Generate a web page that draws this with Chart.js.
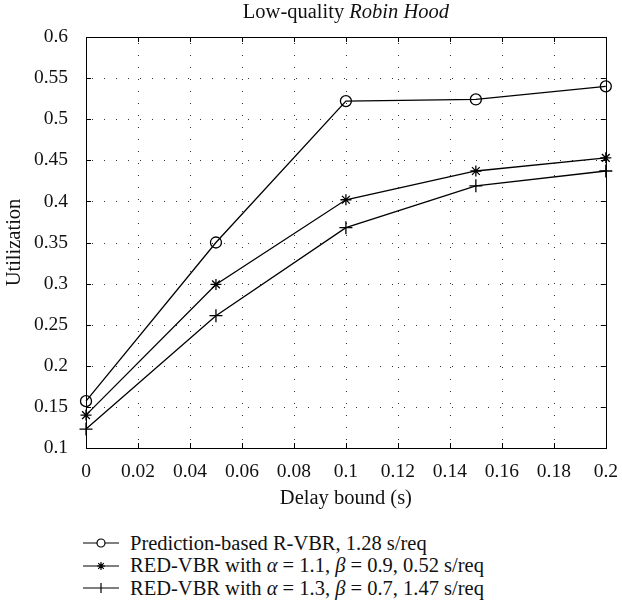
<!DOCTYPE html>
<html>
<head>
<meta charset="utf-8">
<script src="https://cdn.jsdelivr.net/npm/chart.js@4"></script>
<style>
  body { margin: 0; background: #fff; }
  #wrap { position: relative; width: 622px; height: 613px; font-family: "Liberation Serif", serif; }
  #legend { position: absolute; left: 83px; top: 532px; font-size: 20.5px; color: #111; }
  .row { display: flex; align-items: center; height: 22.5px; white-space: nowrap; }
  .row svg { width: 36px; height: 14px; margin-right: 11px; }
</style>
</head>
<body>
<div id="wrap">
  <canvas id="myLineChart" width="622" height="520"></canvas>
  <div id="legend"></div>
</div>
<script>
// data
const delayBound = [0, 0.05, 0.1, 0.15, 0.2];
const predictionRVBR = [0.157, 0.350, 0.522, 0.524, 0.540];
const redVBR1 = [0.140, 0.299, 0.402, 0.437, 0.453];
const redVBR2 = [0.123, 0.261, 0.368, 0.419, 0.437];
const xTicks = [0, 0.02, 0.04, 0.06, 0.08, 0.1, 0.12, 0.14, 0.16, 0.18, 0.2];
const yTicks = [0.1, 0.15, 0.2, 0.25, 0.3, 0.35, 0.4, 0.45, 0.5, 0.55, 0.6];
const seriesNames = [
  'Prediction-based R-VBR, 1.28 s/req',
  'RED-VBR with <i>α</i> = 1.1, <i>β</i> = 0.9, 0.52 s/req',
  'RED-VBR with <i>α</i> = 1.3, <i>β</i> = 0.7, 1.47 s/req'
];
const markers = ['circle', 'star', 'cross'];

const FONT = '"Liberation Serif", serif';

function toPoints(ys) {
  return delayBound.map((x, i) => ({ x: x, y: ys[i] }));
}

function makeSet(label, ys, style, r) {
  return {
    label: label,
    data: toPoints(ys),
    borderColor: '#000',
    borderWidth: 1.3,
    pointStyle: style,
    pointRadius: r,
    pointHoverRadius: r,
    pointBorderColor: '#000',
    pointBackgroundColor: 'rgba(0,0,0,0)',
    pointBorderWidth: 1.3,
    tension: 0,
    clip: false
  };
}

// dotted grid, box round the plot, inward ticks on all sides, mixed-style title
const frame = {
  id: 'frame',
  beforeDatasetsDraw(chart) {
    const ctx = chart.ctx;
    const a = chart.chartArea;
    const xs = chart.scales.x, ys = chart.scales.y;
    ctx.save();
    ctx.fillStyle = '#333';
    xTicks.forEach(v => {
      const px = Math.round(xs.getPixelForValue(v));
      if (px <= a.left + 1 || px >= a.right - 1) return;
      for (let y = a.top + 6; y < a.bottom - 2; y += 12) ctx.fillRect(px, Math.round(y), 1, 1);
    });
    yTicks.forEach(v => {
      const py = Math.round(ys.getPixelForValue(v));
      if (py <= a.top + 1 || py >= a.bottom - 1) return;
      for (let x = a.left + 6; x < a.right - 2; x += 12) ctx.fillRect(Math.round(x), py, 1, 1);
    });
    ctx.restore();
  },
  afterDraw(chart) {
    const ctx = chart.ctx;
    const a = chart.chartArea;
    const xs = chart.scales.x, ys = chart.scales.y;
    ctx.save();
    ctx.strokeStyle = '#000';
    ctx.lineWidth = 1;
    ctx.strokeRect(Math.round(a.left) + 0.5, Math.round(a.top) + 0.5,
      Math.round(a.right - a.left), Math.round(a.bottom - a.top));
    ctx.beginPath();
    xTicks.forEach(v => {
      const px = Math.round(xs.getPixelForValue(v)) + 0.5;
      ctx.moveTo(px, a.bottom); ctx.lineTo(px, a.bottom - 5);
      ctx.moveTo(px, a.top); ctx.lineTo(px, a.top + 5);
    });
    yTicks.forEach(v => {
      const py = Math.round(ys.getPixelForValue(v)) + 0.5;
      ctx.moveTo(a.left, py); ctx.lineTo(a.left + 5, py);
      ctx.moveTo(a.right, py); ctx.lineTo(a.right - 5, py);
    });
    ctx.stroke();

    const t1 = 'Low-quality ', t2 = 'Robin Hood';
    ctx.fillStyle = '#111';
    ctx.textBaseline = 'middle';
    ctx.font = '20.5px ' + FONT;
    const w1 = ctx.measureText(t1).width;
    ctx.font = 'italic 20.5px ' + FONT;
    const w2 = ctx.measureText(t2).width;
    const cx = (a.left + a.right) / 2;
    const x0 = cx - (w1 + w2) / 2;
    ctx.textAlign = 'left';
    ctx.font = '20.5px ' + FONT;
    ctx.fillText(t1, x0, 13);
    ctx.font = 'italic 20.5px ' + FONT;
    ctx.fillText(t2, x0 + w1, 13);
    ctx.restore();
  }
};

const ctxLine = document.getElementById('myLineChart').getContext('2d');
const myLineChart = new Chart(ctxLine, {
  type: 'line',
  data: {
    datasets: [
      makeSet('Prediction-based R-VBR', predictionRVBR, markers[0], 5.5),
      makeSet('RED-VBR a=1.1', redVBR1, markers[1], 5.5),
      makeSet('RED-VBR a=1.3', redVBR2, markers[2], 6.5)
    ]
  },
  options: {
    responsive: false,
    animation: false,
    layout: { padding: { top: 37, right: 14, left: 0, bottom: 0 } },
    plugins: {
      legend: { display: false },
      tooltip: { enabled: false }
    },
    scales: {
      x: {
        type: 'linear',
        min: 0,
        max: 0.2,
        afterBuildTicks: s => { s.ticks = xTicks.map(v => ({ value: v })); },
        afterFit: s => { s.height = 72; },
        grid: { display: false },
        border: { display: false },
        ticks: {
          padding: 4,
          color: '#111',
          font: { family: FONT, size: 19.5 },
          maxRotation: 0,
          callback: v => String(v)
        },
        title: {
          display: true,
          text: 'Delay bound (s)',
          color: '#111',
          font: { family: FONT, size: 20.5 },
          padding: { top: 0, bottom: 9 }
        }
      },
      y: {
        type: 'linear',
        min: 0.1,
        max: 0.6,
        afterBuildTicks: s => { s.ticks = yTicks.map(v => ({ value: v })); },
        afterFit: s => { s.width = 86; },
        grid: { display: false },
        border: { display: false },
        ticks: {
          padding: 10,
          color: '#111',
          font: { family: FONT, size: 19.5 },
          callback: v => String(v)
        },
        title: {
          display: true,
          text: 'Utilization',
          color: '#111',
          font: { family: FONT, size: 20.5 },
          padding: { top: 2, bottom: 0 }
        }
      }
    }
  },
  plugins: [frame]
});

// legend under the chart: short line with the series marker, then the text
function markerSvg(style) {
  let m = '';
  if (style === 'circle') {
    m = '<circle cx="18" cy="7" r="4" fill="#fff" stroke="#000" stroke-width="1.2"/>';
  } else if (style === 'star') {
    m = '<path d="M18 3v8M14 7h8M15.2 4.2l5.6 5.6M20.8 4.2l-5.6 5.6" stroke="#000" stroke-width="1.2"/>';
  } else {
    m = '<path d="M18 2v10" stroke="#000" stroke-width="1.2"/>';
  }
  return '<svg viewBox="0 0 36 14"><path d="M0 7h36" stroke="#000" stroke-width="1.2"/>' + m + '</svg>';
}
document.getElementById('legend').innerHTML = seriesNames.map((name, i) =>
  '<div class="row">' + markerSvg(markers[i]) + '<span>' + name + '</span></div>'
).join('');
</script>
</body>
</html>
